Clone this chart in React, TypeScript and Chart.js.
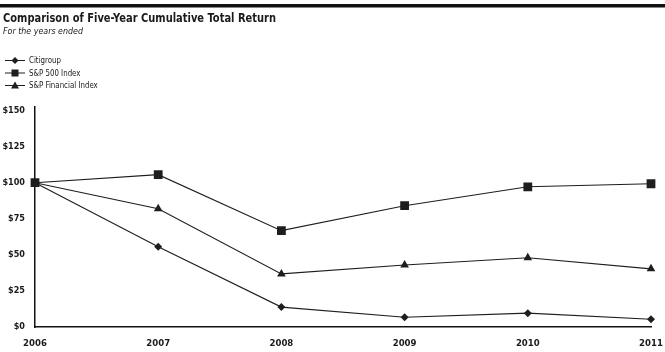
import React, { useEffect, useRef } from "react";
import { Chart, registerables } from "chart.js";

Chart.register(...registerables);

const years = ["2006", "2007", "2008", "2009", "2010", "2011"];
const citigroup = [100, 55.6, 13.8, 6.8, 9.6, 5.4];
const sp500 = [100, 105.6, 66.8, 84.1, 97.2, 99.3];
const spFinancial = [100, 82, 36.8, 43, 48, 40.3];
const yTicks = [0, 25, 50, 75, 100, 125, 150];

const titleText = "Comparison of Five-Year Cumulative Total Return";
const subtitleText = "For the years ended";
const seriesNames = ["Citigroup", "S&P 500 Index", "S&P Financial Index"];

const FONT = '"DejaVu Sans Condensed", "DejaVu Sans", sans-serif';
const INK = "#1e1e1e";

function condensedText(ctx: CanvasRenderingContext2D, text: string, x: number, y: number, sx: number) {
  ctx.save();
  ctx.translate(x, y);
  ctx.scale(sx, 1);
  ctx.fillText(text, 0, 0);
  ctx.restore();
}

function drawMarker(ctx: CanvasRenderingContext2D, style: string, x: number, y: number) {
  ctx.beginPath();
  if (style === "rect") {
    ctx.rect(x - 3.5, y - 3.5, 7, 7);
  } else if (style === "rectRot") {
    ctx.moveTo(x, y - 3.5);
    ctx.lineTo(x + 3.5, y);
    ctx.lineTo(x, y + 3.5);
    ctx.lineTo(x - 3.5, y);
    ctx.closePath();
  } else {
    ctx.moveTo(x, y - 4);
    ctx.lineTo(x + 4, y + 3);
    ctx.lineTo(x - 4, y + 3);
    ctx.closePath();
  }
  ctx.fillStyle = INK;
  ctx.fill();
}

const headerPlugin = {
  id: "header",
  afterDraw(chart: any) {
    const ctx = chart.ctx as CanvasRenderingContext2D;
    ctx.save();
    ctx.fillStyle = "#111";
    ctx.fillRect(0, 4, 665, 3.5);
    ctx.fillStyle = "#1a1a1a";
    ctx.textBaseline = "alphabetic";
    ctx.textAlign = "left";
    ctx.font = `bold 12.5px ${FONT}`;
    const tw = ctx.measureText(titleText).width;
    condensedText(ctx, titleText, 3, 22, 273 / tw);
    ctx.font = `italic 9px ${FONT}`;
    const sw = ctx.measureText(subtitleText).width;
    condensedText(ctx, subtitleText, 3, 33.5, 80 / sw);
    const styles = ["rectRot", "rect", "triangle"];
    const ys = [60.5, 73, 85.5];
    ctx.font = `9.5px ${FONT}`;
    const lw = ctx.measureText(seriesNames[0]).width;
    const lsx = 32 / lw;
    ctx.textBaseline = "middle";
    for (let i = 0; i < 3; i++) {
      ctx.strokeStyle = INK;
      ctx.lineWidth = 1;
      ctx.beginPath();
      ctx.moveTo(5, ys[i]);
      ctx.lineTo(25, ys[i]);
      ctx.stroke();
      drawMarker(ctx, styles[i], 15, ys[i]);
      ctx.fillStyle = "#1a1a1a";
      condensedText(ctx, seriesNames[i], 29, ys[i] + 0.5, lsx);
    }
    ctx.restore();
  },
};

export default function App() {
  const ref = useRef<HTMLCanvasElement>(null);
  useEffect(() => {
    if (!ref.current) return;
    const mk = (label: string, data: number[], pointStyle: string, r: number) => ({
      label,
      data,
      borderColor: INK,
      backgroundColor: INK,
      borderWidth: 1.1,
      pointStyle,
      pointRadius: r,
      pointBorderWidth: 0,
      pointBackgroundColor: INK,
      tension: 0,
    });
    const chart = new Chart(ref.current, {
      type: "line",
      data: {
        labels: years,
        datasets: [
          mk(seriesNames[0], citigroup, "rectRot", 4),
          mk(seriesNames[1], sp500, "rect", 6.2),
          mk(seriesNames[2], spFinancial, "triangle", 5),
        ],
      },
      options: {
        animation: false,
        responsive: false,
        devicePixelRatio: 1,
        layout: { padding: { left: 0, top: 107, right: 14, bottom: 0 } },
        plugins: { legend: { display: false }, tooltip: { enabled: false } },
        scales: {
          x: {
            offset: false,
            grid: { display: false, drawTicks: false },
            border: { display: true, color: "#111", width: 1.5 },
            ticks: {
              color: "#1a1a1a",
              font: { family: FONT, size: 9.5, weight: "bold" },
              padding: 11,
              maxRotation: 0,
            },
            afterFit(scale: any) {
              scale.height = 25;
              scale.paddingRight = 0;
              scale.paddingLeft = 0;
            },
          },
          y: {
            min: 0,
            max: 152.5,
            grid: { display: false, drawTicks: false },
            border: { display: true, color: "#111", width: 1.5 },
            afterBuildTicks(scale: any) {
              scale.ticks = yTicks.map((v) => ({ value: v }));
            },
            ticks: {
              color: "#1a1a1a",
              font: { family: FONT, size: 9, weight: "bold" },
              padding: 10,
              callback: (v: any) => "$" + v,
            },
            afterFit(scale: any) {
              scale.width = 35;
            },
          },
        },
      },
      plugins: [headerPlugin],
    } as any);
    return () => chart.destroy();
  }, []);
  return (
    <div style={{ position: "absolute", left: 0, top: 0, width: 665, height: 352, background: "#fff" }}>
      <canvas ref={ref} width={665} height={352} style={{ width: 665, height: 352 }} />
    </div>
  );
}
